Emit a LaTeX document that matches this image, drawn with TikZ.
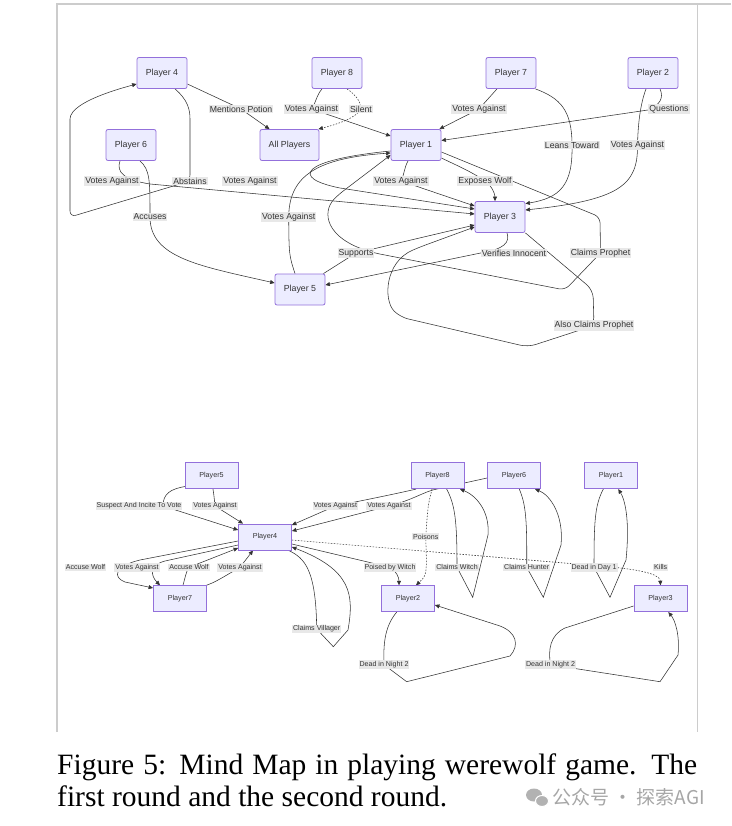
\documentclass[tikz,border=0pt]{standalone}
\usepackage{fontspec}
\setmainfont{Liberation Serif}
\newfontfamily\mmfont{Liberation Sans}
\newfontfamily\cjkfont{Noto Sans CJK SC}
\usetikzlibrary{arrows.meta}

\pgfdeclarelayer{edges}
\pgfsetlayers{edges,main}

\definecolor{nodefill}{HTML}{ECECFF}
\definecolor{nodeline}{HTML}{9370DB}
\definecolor{lblfill}{HTML}{E8E8E8}
\definecolor{ink}{HTML}{333333}
\definecolor{framegray}{HTML}{CCCCCC}

\tikzset{
  player/.style={draw=nodeline, fill=nodefill, line width=0.8pt, rounded corners=2pt,
    minimum width=50pt, minimum height=31pt, inner sep=0pt, text=ink,
    font=\mmfont\fontsize{8.8}{10}\selectfont},
  smallplayer/.style={player, rounded corners=0pt, minimum width=53pt, minimum height=26pt,
    font=\mmfont\fontsize{7.2}{9}\selectfont},
  lbl/.style={fill=lblfill, inner sep=1pt, text=ink, font=\mmfont\fontsize{8.7}{10}\selectfont},
  smalllbl/.style={lbl, font=\mmfont\fontsize{7.1}{8}\selectfont},
  link/.style={draw=ink, line width=0.55pt, -{Triangle[length=4.5pt,width=4pt]}},
  dotlink/.style={link, dash pattern=on 1.5pt off 1.5pt},
}

\begin{document}
\begin{tikzpicture}[x=1pt,y=-1pt]
\useasboundingbox (0,0) rectangle (731,826);

% frame
\draw[framegray, line width=1.5pt] (57,732) -- (57,4) -- (731,4);
\draw[framegray, line width=1pt] (697,4) -- (697,732);

% round one: players
\node[player] (p4) at (162,73) {Player 4};
\node[player] (p8) at (337,73) {Player 8};
\node[player] (p7) at (511,73) {Player 7};
\node[player] (p2) at (653,73) {Player 2};
\node[player] (p6) at (131,145) {Player 6};
\node[player, minimum width=59pt] (pall) at (289.5,145) {All Players};
\node[player] (p1) at (416,145) {Player 1};
\node[player] (p3) at (500,217) {Player 3};
\node[player] (p5) at (300,289.5) {Player 5};

% round one: labels
\node[lbl] (lmention) at (241,109) {Mentions Potion};
\node[lbl] (lvote8) at (311.5,109) {Votes Against};
\node[lbl] (lsilent) at (361,109) {Silent};
\node[lbl] (lvote7) at (479,109) {Votes Against};
\node[lbl] (lquest) at (669,109) {Questions};
\node[lbl] (llean) at (572,145) {Leans Toward};
\node[lbl] (lvote2) at (637.5,145) {Votes Against};
\node[lbl] (lvote6) at (112,181) {Votes Against};
\node[lbl] (labstain) at (190,181) {Abstains};
\node[lbl] (lvote1b) at (250,181) {Votes Against};
\node[lbl] (lvote1) at (401,181) {Votes Against};
\node[lbl] (lexpose) at (485,181) {Exposes Wolf};
\node[lbl] (laccuse) at (150,217) {Accuses};
\node[lbl] (lvote5) at (288.7,217) {Votes Against};
\node[lbl] (lsupport) at (356,253) {Supports};
\node[lbl] (lverify) at (514,253) {Verifies Innocent};
\node[lbl] (lclaim) at (600.5,253) {Claims Prophet};
\node[lbl] (lalso) at (594,325.5) {Also Claims Prophet};

% round one: edges
\begin{pgfonlayer}{edges}
\draw[link] ([yshift=-11pt]p4.east) -- (lmention.center) -- ([xshift=-20pt]pall.north);
\draw[dotlink] ([xshift=10pt]p8.south) .. controls (356,95) and (361,102) .. (lsilent.center)
  .. controls (356,118) and (338,124) .. ([xshift=-1pt]pall.north east);
\draw[link] ([xshift=-15pt]p8.south) .. controls (316,96) and (316,103) .. (lvote8.center)
  -- ([yshift=9pt]p1.west);
\draw[link] ([xshift=-14pt]p7.south) -- (lvote7.center) -- ([xshift=-2pt]p1.north east);
\draw[link] ([xshift=7pt]p2.south) .. controls (664,98) and (660,105) .. (648,110)
  -- ([yshift=4.5pt]p1.east);
\draw[link] ([xshift=-1pt]p7.south east) .. controls (560,98) and (572,110) .. (llean.center)
  .. controls (573,185) and (560,198) .. ([yshift=-2.5pt]p3.north east);
\draw[link] ([xshift=-7pt]p2.south) .. controls (640,105) and (638,125) .. (lvote2.center)
  .. controls (638,185) and (620,200) .. ([yshift=7pt]p3.east);
\draw[link] ([xshift=-11pt]p6.south) .. controls (116,172) and (124,180) .. (150,184)
  -- ([yshift=3pt]p3.west);
\draw[link] ([xshift=-8pt]p1.south) .. controls (404,168) and (404,176) .. (lvote1.center)
  -- ([yshift=11pt]p3.west);
\draw[link] ([yshift=-13pt]p1.east) .. controls (458,166) and (472,172) .. (lexpose.center)
  .. controls (492,186) and (495,194) .. ([xshift=-5pt]p3.north);
\draw[link] ([yshift=-6pt]p1.west) .. controls (300,160) and (290,178) .. (340,188)
  -- ([yshift=8pt]p3.west);
\draw[link, rounded corners=6pt] ([yshift=-7pt]p1.east) -- (600,217) -- (lclaim.center)
  -- (565,290) -- (lsupport.east) .. controls (325,238) and (322,212) .. (338,195)
  -- ([yshift=-10pt]p1.west);
\draw[link] ([xshift=9pt]p6.south) .. controls (150,170) and (150,180) .. (laccuse.center)
  .. controls (150,258) and (200,266) .. ([yshift=6.5pt]p5.west);
\draw[link] ([xshift=-5pt]p5.north) .. controls (289,255) .. (lvote5.center)
  .. controls (289,175) and (318,158) .. ([yshift=-8pt]p1.west);
\draw[link] ([xshift=-2pt]p5.north east) -- (lsupport.center) -- ([yshift=-8pt]p3.west);
\draw[link] ([xshift=7pt]p3.south) .. controls (510,242) and (505,249) .. (lverify.west)
  -- ([yshift=4.5pt]p5.east);
\draw[link, rounded corners=8pt] (p3.south east) -- (593,290) -- (lalso.center) -- (528,347)
  -- (400,317) .. controls (383,300) and (385,262) .. (420,247) -- ([yshift=-10pt]p3.west);
\draw[link, rounded corners=6pt] ([xshift=13pt]p4.south) .. controls (188,100) and (190,110) .. (190,125)
  -- (labstain.center) -- (70,217) -- (70,125) .. controls (70,110) and (85,98) .. ([yshift=-11pt]p4.west);
\end{pgfonlayer}

% round two: players
\node[smallplayer] (q5) at (211.5,475.7) {Player5};
\node[smallplayer] (q8) at (437.5,475.7) {Player8};
\node[smallplayer] (q6) at (514,475.7) {Player6};
\node[smallplayer] (q1) at (611,475.7) {Player1};
\node[smallplayer] (q4) at (265,537) {Player4};
\node[smallplayer] (q7) at (180,598.7) {Player7};
\node[smallplayer] (q2) at (408,598.7) {Player2};
\node[smallplayer] (q3) at (660.5,598.7) {Player3};

% round two: labels
\node[smalllbl] (msuspect) at (139,506) {Suspect And Incite To Vote};
\node[smalllbl] (mvote5) at (215,506) {Votes Against};
\node[smalllbl] (mvote8) at (335.3,506) {Votes Against};
\node[smalllbl] (mvote6) at (389,506) {Votes Against};
\node[smalllbl] (mpoisons) at (425.7,536.7) {Poisons};
\node[smalllbl] (maccuse4) at (85.5,567.3) {Accuse Wolf};
\node[smalllbl] (mvote4) at (137,567.3) {Votes Against};
\node[smalllbl] (maccuse7) at (189,567.3) {Accuse Wolf};
\node[smalllbl] (mvote7) at (240,567.3) {Votes Against};
\node[smalllbl] (mpoised) at (390,567.3) {Poised by Witch};
\node[smalllbl] (mwitch) at (457,567.3) {Claims Witch};
\node[smalllbl] (mhunter) at (526.7,567.3) {Claims Hunter};
\node[smalllbl] (mday) at (594,567.3) {Dead in Day 1};
\node[smalllbl] (mkills) at (660.7,567.3) {Kills};
\node[smalllbl] (mvillager) at (316.7,629) {Claims Villager};
\node[smalllbl] (mnight2) at (384,664.7) {Dead in Night 2};
\node[smalllbl] (mnight3) at (550.5,664.7) {Dead in Night 2};

% round two: edges
\begin{pgfonlayer}{edges}
\draw[link] ([xshift=1pt,yshift=2.7pt]q5.south west) .. controls (170,489) and (163,494) .. (163,506)
  -- ([yshift=7pt]q4.west);
\draw[link] ([xshift=1.5pt]q5.south) .. controls (214,496) .. (mvote5.center) -- ([xshift=-22pt]q4.north);
\draw[link] ([xshift=-21.5pt]q8.south) .. controls (395,494) and (365,500) .. (mvote8.center)
  -- ([yshift=12pt]q4.east);
\draw[link] ([yshift=-2.3pt]q6.west) -- (437,489) .. controls (425,491) and (413,500) .. (mvote6.center)
  -- ([yshift=6pt]q4.east);
\draw[dotlink] ([yshift=-3pt]q4.east) -- (600,566) .. controls (650,570) and (660,576) .. (q3.north);
\draw[link] ([yshift=-7pt]q4.east) -- (mpoised.center) .. controls (396,571) and (399,577) .. ([xshift=-9pt]q2.north);
\draw[dotlink] ([xshift=-5.5pt]q8.south) .. controls (428,505) .. (mpoisons.center)
  .. controls (427,575) .. ([xshift=8pt]q2.north);
\draw[link] ([xshift=9.2pt]q8.south) .. controls (455,505) and (457,520) .. (mwitch.center)
  -- (472.7,597.3) -- (488,535) .. controls (490,510) and (475,495) .. ([xshift=22.5pt]q8.south);
\draw[link] ([xshift=5.3pt]q6.south) .. controls (526,505) and (527,520) .. (mhunter.center)
  -- (543.3,597.3) -- (561,545) .. controls (564,515) and (550,495) .. ([xshift=21pt]q6.south);
\draw[link] ([xshift=-7.7pt]q1.south) .. controls (595,505) and (594,520) .. (mday.center)
  -- (610,597.3) -- (626,560) .. controls (630,520) and (625,500) .. ([xshift=7.3pt]q1.south);
\draw[link] ([xshift=-11.3pt]q2.south) .. controls (386,625) and (383,640) .. (mnight2.center)
  -- (406.7,681.7) -- (510,656) .. controls (520,645) and (516,632) .. (500,626) -- ([yshift=-6.3pt]q2.east);
\draw[link] ([yshift=-7.3pt]q3.west) -- (565,628) .. controls (550,635) and (548,650) .. (mnight3.center)
  -- (660,681.7) -- (678,655) .. controls (680,635) and (675,620) .. ([xshift=7.8pt]q3.south);
\draw[link] ([yshift=-4pt]q4.west) -- (140,560) .. controls (115,566) and (112,577) .. (125,582)
  -- ([yshift=10.7pt]q7.west);
\draw[link] ([yshift=-8pt]q4.west) -- (165,561) .. controls (150,565) and (150,575) .. ([xshift=-20pt]q7.north);
\draw[link] ([xshift=3pt]q7.north) .. controls (185,578) and (186,572) .. (maccuse7.center)
  -- ([yshift=-11pt]q4.west);
\draw[link] ([xshift=-0.5pt]q7.north east) .. controls (215,582) .. (mvote7.center) -- ([xshift=-12pt]q4.south);
\draw[link] ([xshift=-3.5pt]q4.south east) .. controls (305,558) and (316,570) .. (mvillager.center)
  -- (333.3,646.7) -- (348,630) .. controls (354,595) and (352,570) .. ([yshift=-10pt]q4.east);
\end{pgfonlayer}

% caption
\node[anchor=north west, inner sep=0pt, text width=640pt, align=justify,
  font=\fontsize{29.5}{32}\selectfont] (caption) at (57,754)
  {Figure 5: Mind Map in playing werewolf game. The\linebreak first round and the second round.};

% watermark
\fill[gray!60] (534,795) ellipse (8pt and 6.5pt);
\fill[gray!60, draw=white, line width=1pt] (542,801) ellipse (6.5pt and 5.5pt);
\node[anchor=west, inner sep=0pt, text=gray!70, font=\cjkfont\fontsize{19}{20}\selectfont] (mark) at (552,797) {公众号 · 探索AGI};
\end{tikzpicture}
\end{document}
